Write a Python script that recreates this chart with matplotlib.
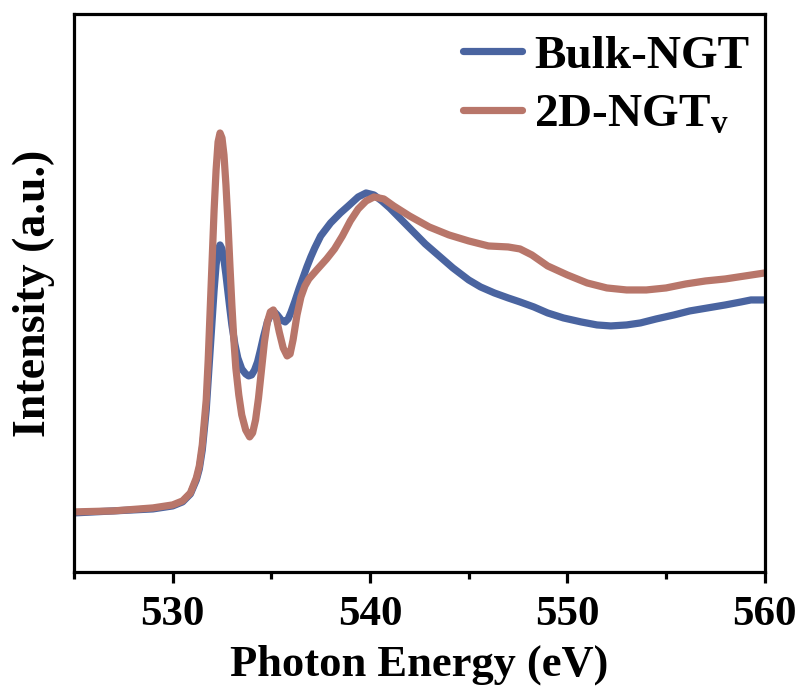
import matplotlib
matplotlib.use("Agg")
import matplotlib.pyplot as plt
from matplotlib.ticker import MultipleLocator

plt.rcParams['font.family'] = ['Liberation Serif', 'DejaVu Serif']
plt.rcParams['font.weight'] = 'bold'
plt.rcParams['mathtext.fontset'] = 'custom'
plt.rcParams['mathtext.bf'] = 'Liberation Serif:bold'
plt.rcParams['mathtext.rm'] = 'Liberation Serif:bold'

# ---- data ----
energy_2d = [525, 527, 529, 530, 530.5, 530.9, 531.2, 531.35, 531.5, 531.7, 531.8, 531.9,
             532.0, 532.1, 532.2, 532.3, 532.4, 532.5, 532.6, 532.7, 532.8, 532.9, 533.0,
             533.1, 533.2, 533.35, 533.5, 533.7, 533.9, 534.05, 534.2, 534.35, 534.5,
             534.65, 534.8, 534.95, 535.1, 535.25, 535.4, 535.6, 535.8, 535.95, 536.1,
             536.3, 536.5, 536.7, 536.9, 537.3, 537.8, 538.2, 538.6, 539.0, 539.4,
             539.8, 540.2, 540.7, 541.2, 542.0, 543.0, 544.0, 545.0, 546.0, 547.0, 547.6,
             548.2, 549.0, 550.0, 551.0, 552.0, 553.0, 554.0, 555.0, 556.0, 557.0, 558.0,
             559.0, 560.0]
intensity_2d = [0.60, 0.61, 0.64, 0.67, 0.71, 0.79, 0.94, 1.06, 1.27, 1.72, 2.12, 2.62,
                3.12, 3.62, 4.02, 4.30, 4.39, 4.34, 4.17, 3.87, 3.50, 3.07, 2.67,
                2.32, 2.04, 1.77, 1.57, 1.42, 1.35, 1.39, 1.52, 1.74, 2.02,
                2.30, 2.50, 2.60, 2.62, 2.54, 2.40, 2.24, 2.16, 2.18, 2.32,
                2.57, 2.75, 2.86, 2.93, 3.02, 3.13, 3.23, 3.36, 3.51, 3.63,
                3.71, 3.75, 3.73, 3.66, 3.56, 3.45, 3.37, 3.31, 3.26, 3.25, 3.23,
                3.17, 3.06, 2.97, 2.89, 2.84, 2.82, 2.82, 2.84, 2.88, 2.91, 2.93,
                2.96, 2.99]

energy_bulk = [525, 527, 529, 530, 530.5, 530.9, 531.2, 531.35, 531.5, 531.7, 531.8, 531.9,
               532.0, 532.1, 532.2, 532.3, 532.4, 532.5, 532.6, 532.7, 532.8, 532.9, 533.0,
               533.15, 533.3, 533.5, 533.7, 533.85, 534.0, 534.15, 534.3, 534.45, 534.6,
               534.8, 535.0, 535.15, 535.3, 535.5, 535.7, 535.85, 536.0, 536.2, 536.4,
               536.6, 536.8, 537.0, 537.2, 537.5, 538.0, 538.5, 538.9, 539.4, 539.8,
               540.2, 540.6, 541.0, 541.6, 542.2, 542.8, 543.5, 544.2, 545.0, 545.6, 546.3,
               547.0, 547.6, 548.3, 549.0, 549.8, 550.7, 551.5, 552.2, 553.0, 553.7, 554.5,
               555.4, 556.2, 557.1, 558.0, 558.8, 559.3, 560.0]
intensity_bulk = [0.59, 0.61, 0.63, 0.66, 0.70, 0.78, 0.92, 1.03, 1.22, 1.62, 1.92, 2.22,
                  2.52, 2.82, 3.07, 3.22, 3.27, 3.23, 3.12, 2.97, 2.80, 2.63, 2.47,
                  2.28, 2.14, 2.03, 1.98, 1.96, 1.97, 2.02, 2.10, 2.22, 2.35,
                  2.50, 2.59, 2.60, 2.57, 2.52, 2.50, 2.53, 2.60, 2.71, 2.83,
                  2.94, 3.05, 3.15, 3.24, 3.36, 3.49, 3.59, 3.66, 3.75, 3.79,
                  3.77, 3.71, 3.64, 3.52, 3.40, 3.28, 3.16, 3.04, 2.92, 2.85, 2.79,
                  2.74, 2.70, 2.65, 2.59, 2.54, 2.50, 2.47, 2.46, 2.47, 2.49, 2.53,
                  2.57, 2.61, 2.64, 2.67, 2.70, 2.72, 2.72]

x_ticks = [530, 540, 550, 560]
labels = ['Bulk-NGT', r'2D-NGT$_{\mathbf{v}}$']
colors = ['#4A64A0', '#B8766A']

fig = plt.figure(figsize=(8.06, 7.0), dpi=100)
ax = fig.add_axes([0.0918, 0.183, 0.857, 0.797])

ax.plot(energy_bulk, intensity_bulk, color=colors[0], lw=5.2, label=labels[0],
        solid_joinstyle='round', solid_capstyle='round')
ax.plot(energy_2d, intensity_2d, color=colors[1], lw=5.2, label=labels[1],
        solid_joinstyle='round', solid_capstyle='round')

ax.set_xlim(525, 560)
ax.set_ylim(0, 5.58)
ax.set_xticks(x_ticks)
ax.xaxis.set_minor_locator(MultipleLocator(5))
ax.set_yticks([])

for s in ax.spines.values():
    s.set_linewidth(2.3)
ax.tick_params(axis='x', which='major', length=8, width=2.3, direction='out',
               labelsize=31, pad=9)
ax.tick_params(axis='x', which='minor', length=5, width=2.3, direction='out')
for lab in ax.get_xticklabels():
    lab.set_fontweight('bold')

ax.set_xlabel('Photon Energy (eV)', fontsize=32, fontweight='bold', labelpad=8)
ax.set_ylabel('Intensity (a.u.)', fontsize=33, fontweight='bold', labelpad=14)

leg = ax.legend(loc='upper right', bbox_to_anchor=(1.012, 1.005), frameon=False,
                prop={'family': 'Liberation Serif', 'weight': 'bold', 'size': 34},
                handlelength=1.25, handletextpad=0.25, labelspacing=0.32,
                borderaxespad=0.1)

fig.savefig('out.png', dpi=100)
